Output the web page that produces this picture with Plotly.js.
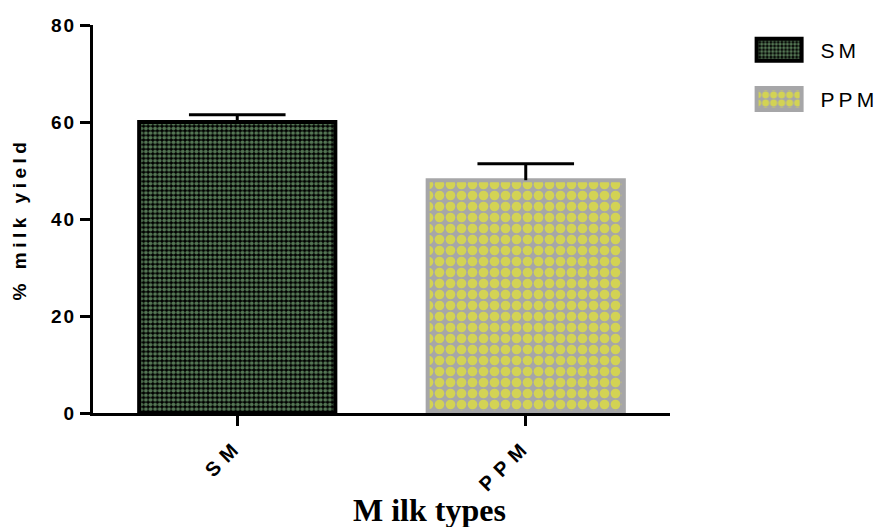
<!DOCTYPE html>
<html>
<head>
<meta charset="utf-8">
<script src="https://cdn.plot.ly/plotly-3.0.1.min.js"></script>
<style>
  html, body { margin: 0; padding: 0; background: #fff; }
  #chart { width: 881px; height: 527px; }
  .ytick text { letter-spacing: 2px; }
  .xtick text { letter-spacing: 7px; }
  .g-ytitle text { letter-spacing: 4.5px; }
  .legendtext { letter-spacing: 4px; }
</style>
</head>
<body>
<div id="chart"></div>
<script>
const categories = ["SM", "PPM"];
const meanValues = [60.0, 48.0];
const errorValues = [1.5, 3.4];
const yTickVals = [0, 20, 40, 60, 80];
const yTickText = ["0", "20", "40", "60", "80"];

const errTop = meanValues.map((m, i) => m + errorValues[i]);

const traces = [
  {
    type: "bar",
    name: categories[0],
    x: [categories[0]],
    y: [meanValues[0]],
    width: 0.68,
    marker: {
      color: "#000000",
      line: { color: "#000000", width: 4 },
      pattern: { shape: ".", bgcolor: "#000000", fgcolor: "#a8eca8", size: 4.6, solidity: 0.56, fillmode: "overlay" }
    },
    legendgroup: "a"
  },
  {
    type: "bar",
    name: categories[1],
    x: [categories[1]],
    y: [meanValues[1]],
    width: 0.68,
    marker: {
      color: "#a6a6a8",
      line: { color: "#a6a6a8", width: 4 },
      pattern: { shape: ".", bgcolor: "#a6a6a8", fgcolor: "#ffff00", size: 11, solidity: 0.6, fillmode: "overlay" }
    },
    legendgroup: "b"
  },
  {
    type: "scatter",
    mode: "markers",
    x: categories,
    y: errTop,
    showlegend: false,
    hoverinfo: "skip",
    marker: { symbol: "line-ew", size: 69, color: "#000000", line: { color: "#000000", width: 3 } },
    error_y: { type: "data", symmetric: false, array: [0, 0], arrayminus: errorValues, color: "#000000", thickness: 3, width: 0 }
  }
];

const layout = {
  width: 881,
  height: 527,
  margin: { l: 93, r: 211, t: 25, b: 114 },
  paper_bgcolor: "#ffffff",
  plot_bgcolor: "#ffffff",
  font: { family: "Liberation Sans, Arial, sans-serif", color: "#000000" },
  barmode: "overlay",
  showlegend: true,
  legend: {
    xref: "container", yref: "container",
    x: 0.852, y: 0.944, xanchor: "left", yanchor: "top",
    font: { size: 21, color: "#000000" },
    tracegroupgap: 19,
    traceorder: "grouped",
    itemwidth: 60
  },
  xaxis: {
    type: "category",
    categoryorder: "array",
    categoryarray: categories,
    range: [-0.5, 1.5],
    showline: true, linecolor: "#000000", linewidth: 3,
    ticks: "outside", ticklen: 10, tickwidth: 3, tickcolor: "#000000",
    tickangle: -45,
    tickfont: { size: 20, family: "Liberation Sans, Arial, sans-serif", weight: "bold" },
    showgrid: false, zeroline: false
  },
  yaxis: {
    range: [0, 80],
    tickvals: yTickVals,
    ticktext: yTickText,
    showline: true, linecolor: "#000000", linewidth: 3,
    ticks: "outside", ticklen: 10, tickwidth: 3, tickcolor: "#000000",
    tickfont: { size: 19, family: "Liberation Sans, Arial, sans-serif", weight: "bold" },
    showgrid: false, zeroline: false,
    title: { text: "% milk yield", font: { size: 19, family: "Liberation Sans, Arial, sans-serif", weight: "bold" }, standoff: 20 }
  },
  annotations: [
    {
      text: "M ilk types",
      xref: "paper", yref: "paper",
      x: 0.584, y: -0.302,
      xanchor: "center", yanchor: "bottom",
      showarrow: false,
      font: { family: "Liberation Serif, Times New Roman, serif", size: 32, weight: "bold", color: "#000000" }
    }
  ]
};

function widenSwatches() {
  // enlarge the legend swatches to the wide boxes of the reference
  document.querySelectorAll("#chart .legend .legendpoints path").forEach(function (p) {
    p.setAttribute("d", "M16,11H-29V-11H16Z");
  });
}

Plotly.newPlot("chart", traces, layout, { displayModeBar: false, staticPlot: true }).then(function (gd) {
  widenSwatches();
  gd.on("plotly_afterplot", widenSwatches);
  setTimeout(widenSwatches, 30);
});
</script>
</body>
</html>
